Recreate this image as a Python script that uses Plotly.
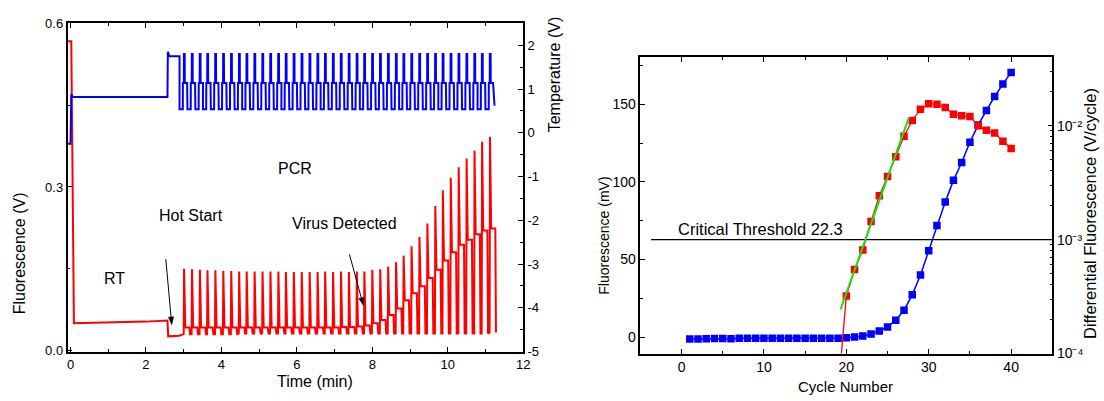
import math
import plotly.graph_objects as go

W, H = 1104, 401

# ---------------- Left panel data (time trace) ----------------
# RT / hot-start segment before cycling (time in min)
pre_time_red = [-0.07, 0.02, 0.09, 1.00, 2.00, 2.57, 2.59, 2.88, 2.95]
pre_fluor = [0.567, 0.567, 0.050, 0.051, 0.053, 0.055, 0.026, 0.027, 0.029]

pre_time_blue = [-0.07, 0.00, 0.02, 0.06, 2.57, 2.58, 2.62, 2.89]
pre_temp = [-0.25, -0.25, 0.88, 0.82, 0.82, 1.85, 1.75, 1.75]

# PCR cycles: time of each fluorescence spike (min)
peak_times = [3.01, 3.22, 3.43, 3.63, 3.84, 4.05, 4.26, 4.47, 4.67, 4.88,
              5.09, 5.30, 5.51, 5.71, 5.92, 6.13, 6.34, 6.55, 6.75, 6.96,
              7.17, 7.38, 7.59, 7.79, 8.00, 8.21, 8.42, 8.63, 8.83, 9.04,
              9.25, 9.46, 9.67, 9.87, 10.08, 10.29, 10.50, 10.71, 10.91, 11.12]
red_peaks = [0.150, 0.149, 0.148, 0.147, 0.147, 0.146, 0.146, 0.145, 0.145, 0.145,
             0.145, 0.145, 0.145, 0.144, 0.144, 0.144, 0.144, 0.144, 0.145, 0.144,
             0.145, 0.144, 0.145, 0.145, 0.148, 0.149, 0.154, 0.162, 0.174, 0.191,
             0.208, 0.233, 0.265, 0.294, 0.317, 0.336, 0.352, 0.367, 0.383, 0.392]
red_shoulders = [0.042, 0.042, 0.042, 0.042, 0.042, 0.042, 0.042, 0.042, 0.042, 0.042,
                 0.042, 0.042, 0.042, 0.042, 0.042, 0.042, 0.042, 0.042, 0.042, 0.042,
                 0.043, 0.043, 0.044, 0.046, 0.050, 0.056, 0.065, 0.077, 0.092, 0.105,
                 0.118, 0.133, 0.148, 0.165, 0.180, 0.194, 0.203, 0.213, 0.220, 0.224]
red_troughs = [0.030, 0.030, 0.030, 0.030, 0.030, 0.030, 0.030, 0.031, 0.031, 0.031,
               0.031, 0.031, 0.031, 0.031, 0.031, 0.031, 0.031, 0.031, 0.031, 0.031,
               0.031, 0.031, 0.031, 0.031, 0.031, 0.031, 0.031, 0.031, 0.031, 0.031,
               0.031, 0.031, 0.031, 0.031, 0.031, 0.031, 0.031, 0.031, 0.031, 0.033]
temp_high, temp_mid, temp_low = 1.80, 1.14, 0.54
end_time_blue, end_temp = [11.24], [0.62]
cycle_period = 0.208

# ---------------- Right panel data (per cycle) ----------------
cycles = list(range(1, 41))
fluor_mV = [-1.2, -1.2, -1.0, -0.9, -0.9, -1.0, -0.6, -0.6, -0.6, -0.6,
            -0.6, -0.6, -0.7, -0.7, -0.7, -0.6, -0.6, -0.6, -0.6, -0.3,
            0.2, 0.8, 2.0, 4.0, 6.6, 11.0, 17.4, 27.3, 40.0, 55.6,
            72.0, 87.0, 101.0, 112.5, 125.6, 136.6, 146.0, 155.0, 163.0, 170.5]
diff_cycles = list(range(19, 41))
diff_fluor = [4.6e-5, 3.2e-4, 5.46e-4, 8.1e-4, 1.44e-3, 2.42e-3, 3.57e-3, 5.34e-3,
              8.07e-3, 1.11e-2, 1.39e-2, 1.56e-2, 1.54e-2, 1.44e-2, 1.26e-2, 1.22e-2,
              1.20e-2, 1.0e-2, 9.1e-3, 8.6e-3, 7.3e-3, 6.3e-3]
fit_cycles = [19.3, 27.6]
fit_diff = [2.44e-4, 1.18e-2]
threshold_cycles = [-3.7, 45]
threshold_value = [1e-3, 1e-3]

temp_ticks = [-5, -4, -3, -2, -1, 0, 1, 2]
log_ticks = [1e-4, 1e-3, 1e-2]
log_ticktext = ["10\u207b\u2074", "10\u207b\u00b3", "10\u207b\u00b2"]

# ---------------- Build traces ----------------
P = cycle_period
red_x, red_y = list(pre_time_red), list(pre_fluor)
for t, pk, sh, tr in zip(peak_times, red_peaks, red_shoulders, red_troughs):
    red_x += [t - 0.05 * P, t, t + 0.15 * P, t + 0.68 * P, t + 0.76 * P]
    red_y += [tr, pk, sh, sh, tr]

blue_x, blue_y = list(pre_time_blue), list(pre_temp)
for t in peak_times:
    b = t - 0.58 * P
    blue_x += [b, b + 0.42 * P, b + 0.43 * P, b + 0.55 * P, b + 0.56 * P,
               b + 0.66 * P, b + 0.67 * P, b + 0.97 * P]
    blue_y += [temp_low, temp_low, temp_mid, temp_mid, temp_high,
               temp_high, temp_mid, temp_mid]
blue_x += end_time_blue
blue_y += end_temp

RED, BLUE, GREEN = "#ff0000", "#0000ff", "#19e019"

fig = go.Figure()
fig.add_trace(go.Scatter(x=blue_x, y=blue_y, mode="lines", xaxis="x", yaxis="y2",
                         line=dict(color=BLUE, width=2)))
fig.add_trace(go.Scatter(x=red_x, y=red_y, mode="lines", xaxis="x", yaxis="y",
                         line=dict(color=RED, width=2)))

fig.add_trace(go.Scatter(x=threshold_cycles, y=threshold_value, mode="lines",
                         xaxis="x2", yaxis="y4", line=dict(color="black", width=1.2)))
fig.add_trace(go.Scatter(x=cycles, y=fluor_mV, mode="lines+markers", xaxis="x2", yaxis="y3",
                         line=dict(color=BLUE, width=1.5),
                         marker=dict(symbol="square", size=7.5, color=BLUE)))
fig.add_trace(go.Scatter(x=diff_cycles, y=diff_fluor, mode="lines+markers", xaxis="x2", yaxis="y4",
                         line=dict(color=RED, width=1.3),
                         marker=dict(symbol="square", size=7.5, color=RED)))
fig.add_trace(go.Scatter(x=fit_cycles, y=fit_diff, mode="lines", xaxis="x2", yaxis="y4",
                         line=dict(color=GREEN, width=2)))


def axis_style(size):
    return dict(showline=True, linecolor="black", linewidth=1.5, ticks="inside",
                ticklen=5, tickwidth=1.2, tickcolor="black", showgrid=False,
                zeroline=False, tickfont=dict(size=size))


fig.update_layout(
    width=W, height=H, margin=dict(l=0, r=0, t=0, b=0),
    paper_bgcolor="white", plot_bgcolor="white", showlegend=False,
    font=dict(family="Arial, Liberation Sans, sans-serif", size=13, color="black"),
    xaxis=dict(domain=[67 / W, 526 / W], range=[-0.08, 12], anchor="y", tick0=0, dtick=2,
               mirror="ticks",
               minor=dict(ticks="inside", ticklen=3, dtick=1, tick0=0, tickcolor="black"),
               **axis_style(13)),
    yaxis=dict(domain=[1 - 358 / H, 1 - 17 / H], range=[-0.002, 0.6], anchor="x",
               tick0=0, dtick=0.3, tickformat=".1f",
               minor=dict(ticks="inside", ticklen=3, dtick=0.15, tick0=0, tickcolor="black"),
               **axis_style(13)),
    yaxis2=dict(overlaying="y", side="right", anchor="x", range=[-5, 2.5],
                tickvals=temp_ticks, ticktext=[str(v) for v in temp_ticks],
                minor=dict(ticks="inside", ticklen=3, dtick=0.5, tick0=0, tickcolor="black"),
                **axis_style(13)),
    xaxis2=dict(domain=[644 / W, 1059 / W], range=[-5, 45], anchor="y3", tick0=0, dtick=10,
                mirror="ticks",
                minor=dict(ticks="inside", ticklen=3, dtick=5, tick0=0, tickcolor="black"),
                **axis_style(14)),
    yaxis3=dict(domain=[1 - 360 / H, 1 - 52 / H], range=[-10.5, 180.4], anchor="x2",
                tick0=0, dtick=50,
                minor=dict(ticks="inside", ticklen=3, dtick=25, tick0=0, tickcolor="black"),
                **axis_style(14)),
    yaxis4=dict(overlaying="y3", side="right", anchor="x2", type="log", range=[-4, -1.398],
                tickvals=log_ticks, ticktext=log_ticktext,
                minor=dict(ticks="inside", ticklen=3, tickcolor="black",
                           tickvals=[m * 10 ** e for e in (-4, -3, -2) for m in range(2, 10)]),
                **axis_style(14)),
)


def label(text, px, py, size=16, angle=0):
    return dict(text=text, x=px / W, y=1 - py / H, xref="paper", yref="paper",
                showarrow=False, font=dict(size=size), textangle=angle,
                xanchor="center", yanchor="middle")


def pp(x, y):
    return f"{x / W:.5f},{1 - y / H:.5f}"


def arrow_shapes(tx, ty, hx, hy, length=8.0, half=2.6):
    dx, dy = hx - tx, hy - ty
    d = math.hypot(dx, dy)
    ux, uy = dx / d, dy / d
    nx, ny = -uy, ux
    bx, by = hx - length * ux, hy - length * uy
    line = dict(type="line", xref="paper", yref="paper",
                x0=tx / W, y0=1 - ty / H, x1=(bx + 2 * ux) / W, y1=1 - (by + 2 * uy) / H,
                line=dict(color="black", width=1))
    head = dict(type="path", xref="paper", yref="paper",
                path=f"M{pp(hx, hy)} L{pp(bx + half * nx, by + half * ny)} "
                     f"L{pp(bx - half * nx, by - half * ny)} Z",
                fillcolor="black", line=dict(color="black", width=0.5))
    return [line, head]


fig.update_layout(
    shapes=arrow_shapes(166, 262, 172, 330) + arrow_shapes(351, 257, 365, 310),
    annotations=[
        label("Fluorescence (V)", 19, 256, 16, -90),
        label("Temperature (V)", 557, 70, 16, -90),
        label("Time (min)", 316, 389, 16),
        label("RT", 114, 282, 16),
        label("Hot Start", 191, 217, 16),
        label("PCR", 296, 168, 16),
        label("Virus Detected", 346, 225, 16),
        label("Fluorescence (mV)", 607, 238, 14, -90),
        label("Cycle Number", 851, 394, 15),
        label("Differential Fluorescence (V/cycle)", 1097, 215, 16.5, -90),
        label("Critical Threshold 22.3", 765, 231, 16.5),
    ])

fig.write_html("out.html")
